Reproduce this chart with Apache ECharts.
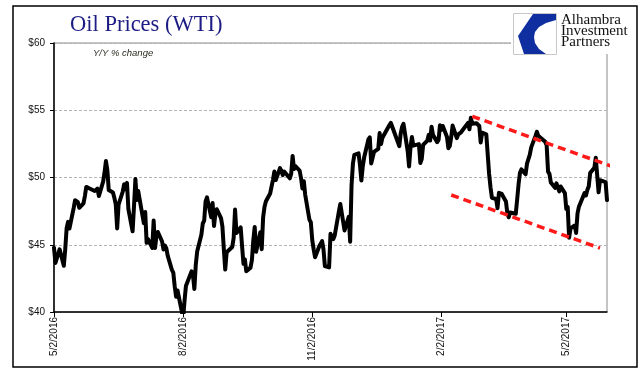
<!DOCTYPE html>
<html><head><meta charset="utf-8">
<script src="https://cdn.jsdelivr.net/npm/echarts@6/dist/echarts.min.js"></script>
<style>html,body{margin:0;padding:0;background:#fff}#c{width:641px;height:381px}</style>
</head><body><div id="c"></div>
<script>
// WTI daily prices, [day, value] per month
const may2016 = [[2,44.78],[3,43.65],[4,43.78],[5,44.32],[6,44.66],[9,43.44],[10,44.66],[11,46.23],[12,46.70],[13,46.21],[16,47.72],[17,48.31],[18,48.19],[19,48.16],[20,47.75],[23,48.08],[24,48.62],[25,49.30],[26,49.30],[27,49.20],[31,49.00]];
const jun2016 = [[1,49.01],[2,49.17],[3,48.62],[6,49.69],[7,50.36],[8,51.23],[9,50.56],[10,49.07],[13,48.88],[14,48.49],[15,48.01],[16,46.21],[17,47.98],[20,48.96],[21,49.50],[22,49.13],[23,49.60],[24,47.64],[27,46.00],[28,47.85],[29,49.88],[30,48.33]];
const jul2016 = [[1,48.99],[5,46.60],[6,47.43],[7,45.14],[8,45.41],[11,44.76],[12,46.80],[13,44.75],[14,45.68],[15,45.95],[18,45.24],[19,44.65],[20,44.94],[21,44.75],[22,44.19],[25,43.13],[26,42.92],[27,41.92],[28,41.14],[29,41.60]];
const aug2016 = [[1,40.06],[2,39.51],[3,40.83],[4,41.93],[5,41.80],[8,43.02],[9,42.77],[10,41.71],[11,43.49],[12,44.49],[15,45.74],[16,46.58],[17,46.79],[18,48.22],[19,48.52],[22,47.05],[23,48.10],[24,46.40],[25,47.33],[26,47.64],[29,46.98],[30,46.35],[31,44.70]];
const sep2016 = [[1,43.16],[2,44.44],[6,44.83],[7,45.50],[8,47.62],[9,45.88],[12,46.29],[13,44.90],[14,43.58],[15,43.91],[16,43.03],[19,43.30],[20,43.85],[21,45.34],[22,46.32],[23,44.48],[26,45.93],[27,44.67],[28,47.05],[29,47.83],[30,48.24]];
const oct2016 = [[3,48.81],[4,48.69],[5,49.83],[6,50.44],[7,49.81],[10,50.70],[11,50.50],[12,50.18],[13,50.44],[14,50.35],[17,49.94],[18,50.29],[19,51.60],[20,50.63],[21,50.85],[24,50.52],[25,49.96],[26,49.18],[27,49.72],[28,48.70],[31,46.86]];
const nov2016 = [[1,46.67],[2,45.34],[3,44.66],[4,44.07],[7,44.89],[8,44.98],[9,45.27],[10,44.66],[11,43.41],[14,43.32],[15,45.81],[16,45.57],[17,45.42],[18,45.69],[21,47.49],[22,48.03],[23,47.96],[25,46.06],[28,47.08],[29,45.23],[30,49.44]];
const dec2016 = [[1,51.06],[2,51.68],[5,51.79],[6,50.93],[7,49.77],[8,50.84],[9,51.50],[12,52.83],[13,52.98],[14,51.04],[15,50.90],[16,51.90],[19,52.12],[20,53.30],[21,52.49],[22,52.95],[23,53.02],[27,53.90],[28,54.06],[29,53.77],[30,53.72]];
const jan2017 = [[3,52.33],[4,53.26],[5,53.76],[6,53.99],[9,51.96],[10,50.82],[11,52.25],[12,53.01],[13,52.37],[17,52.48],[18,51.08],[19,51.37],[20,52.42],[23,52.75],[24,53.18],[25,52.75],[26,53.78],[27,53.17],[30,52.63],[31,52.81]];
const feb2017 = [[1,53.88],[2,53.54],[3,53.83],[6,53.01],[7,52.17],[8,52.34],[9,53.00],[10,53.86],[13,52.93],[14,53.20],[15,53.11],[16,53.36],[17,53.40],[21,54.06],[22,53.59],[23,54.45],[24,53.99],[27,54.04],[28,54.01]];
const mar2017 = [[1,53.83],[2,52.61],[3,53.33],[6,53.20],[7,53.14],[8,50.28],[9,49.28],[10,48.49],[13,48.40],[14,47.72],[15,48.86],[16,48.75],[17,48.78],[20,48.22],[21,47.34],[22,47.04],[23,47.40],[24,47.50],[27,47.30],[28,48.37],[29,49.51],[30,50.35],[31,50.60]];
const apr2017 = [[3,50.24],[4,51.03],[5,51.15],[6,51.70],[7,52.24],[10,53.08],[11,53.40],[12,53.11],[13,53.18],[17,52.65],[18,52.41],[19,50.44],[20,50.27],[21,49.62],[24,49.23],[25,49.56],[26,49.62],[27,48.97],[28,49.33]];
const may2017 = [[1,48.84],[2,47.66],[3,47.82],[4,45.52],[5,46.22],[8,46.43],[9,45.88],[10,47.33],[11,47.83],[12,47.84],[15,48.85],[16,48.66],[17,49.07],[18,49.35],[19,50.33],[22,50.73],[23,51.47],[24,51.36],[25,48.90],[26,49.80],[30,49.66],[31,48.32]];

const months = [[2016,5,may2016],[2016,6,jun2016],[2016,7,jul2016],[2016,8,aug2016],[2016,9,sep2016],[2016,10,oct2016],[2016,11,nov2016],[2016,12,dec2016],[2017,1,jan2017],[2017,2,feb2017],[2017,3,mar2017],[2017,4,apr2017],[2017,5,may2017]];

// x tick labels
const tickLabels = ['5/2/2016','8/2/2016','11/2/2016','2/2/2017','5/2/2017'];
const yTicks = [40,45,50,55,60];
// red channel annotation lines [date, value]
const upperTrend = [['2/24/2017',54.55],['6/9/2017',50.62]];
const lowerTrend = [['2/9/2017',48.70],['5/26/2017',44.75]];

function ts(s){const p=s.split('/');return Date.UTC(+p[2],+p[0]-1,+p[1]);}
const priceData = [];
months.forEach(([y,m,arr])=>arr.forEach(([d,v])=>priceData.push([Date.UTC(y,m-1,d),v])));
const tickTs = tickLabels.map(ts);
const xMin = ts('5/2/2016'), xMax = ts('5/31/2017');

const chart = echarts.init(document.getElementById('c'), null, {renderer:'canvas'});
chart.setOption({
  animation:false,
  grid:{left:54,right:34,top:43,bottom:69,show:true,borderColor:'#8a8a8a',borderWidth:1,backgroundColor:'transparent'},
  xAxis:{type:'value',min:xMin,max:xMax,scale:true,
    axisLine:{show:true,onZero:false,lineStyle:{color:'#000',width:1.5}},
    axisTick:{show:true,length:5,lineStyle:{color:'#000'},customValues:tickTs},
    axisLabel:{customValues:tickTs,rotate:90,margin:5,fontSize:10,fontFamily:'Liberation Sans',color:'#111',showMinLabel:true,showMaxLabel:true,hideOverlap:false,
      formatter:function(v){const i=tickTs.indexOf(v);return i>=0?tickLabels[i]:'';}},
    splitLine:{show:false}},
  yAxis:{type:'value',min:yTicks[0],max:yTicks[yTicks.length-1],interval:5,
    axisLine:{show:true,lineStyle:{color:'#000',width:1.5}},
    axisTick:{show:true,length:4,lineStyle:{color:'#000'}},
    axisLabel:{margin:9,fontSize:10,fontFamily:'Liberation Sans',color:'#111',formatter:function(v){return '$'+v;}},
    splitLine:{show:true,lineStyle:{color:'#b4b4b4',type:[3,2],width:1}}},
  series:[
    {type:'line',data:priceData,showSymbol:false,symbol:'none',lineStyle:{color:'#000',width:4,join:'round',cap:'round'},z:3},
    {type:'line',data:upperTrend.map(p=>[ts(p[0]),p[1]]),symbol:'none',clip:false,lineStyle:{color:'#ff1a1a',width:3.5,type:[8,5]},z:4},
    {type:'line',data:lowerTrend.map(p=>[ts(p[0]),p[1]]),symbol:'none',clip:false,lineStyle:{color:'#ff1a1a',width:3.5,type:[8,5]},z:4}
  ],
  graphic:[
    {type:'rect',shape:{x:13,y:6,width:624,height:361},style:{fill:'none',stroke:'#000',lineWidth:1.5},z:10},
    {type:'text',x:70,y:25.5,style:{text:'Oil Prices (WTI)',font:'normal 22.5px "Liberation Serif"',fill:'#1c1c84',verticalAlign:'middle'},z:10},
    {type:'text',x:93,y:53.5,style:{text:'Y/Y % change',font:'italic 9.5px "Liberation Sans"',fill:'#2b2b22',verticalAlign:'middle'},z:10},
    {type:'rect',shape:{x:511,y:8,width:122,height:46},style:{fill:'#fff'},z:20},
    {type:'rect',shape:{x:513.5,y:13.5,width:43,height:41},style:{fill:'#fff',stroke:'#c8c8c8',lineWidth:1},z:21},
    {type:'polygon',shape:{points:[[533,14],[556,14],[556,20],[546,23],[539,27],[535,32],[534,37],[535,43],[539,49],[546,54],[524,54],[518,36]]},style:{fill:'#0f2fa0'},z:22},
    {type:'text',x:561,y:20,style:{text:'Alhambra',font:'normal 15px "Liberation Serif"',fill:'#111',verticalAlign:'middle'},z:22},
    {type:'text',x:561,y:31,style:{text:'Investment',font:'normal 15px "Liberation Serif"',fill:'#111',verticalAlign:'middle'},z:22},
    {type:'text',x:561,y:42,style:{text:'Partners',font:'normal 15px "Liberation Serif"',fill:'#111',verticalAlign:'middle'},z:22}
  ]
});
</script></body></html>
